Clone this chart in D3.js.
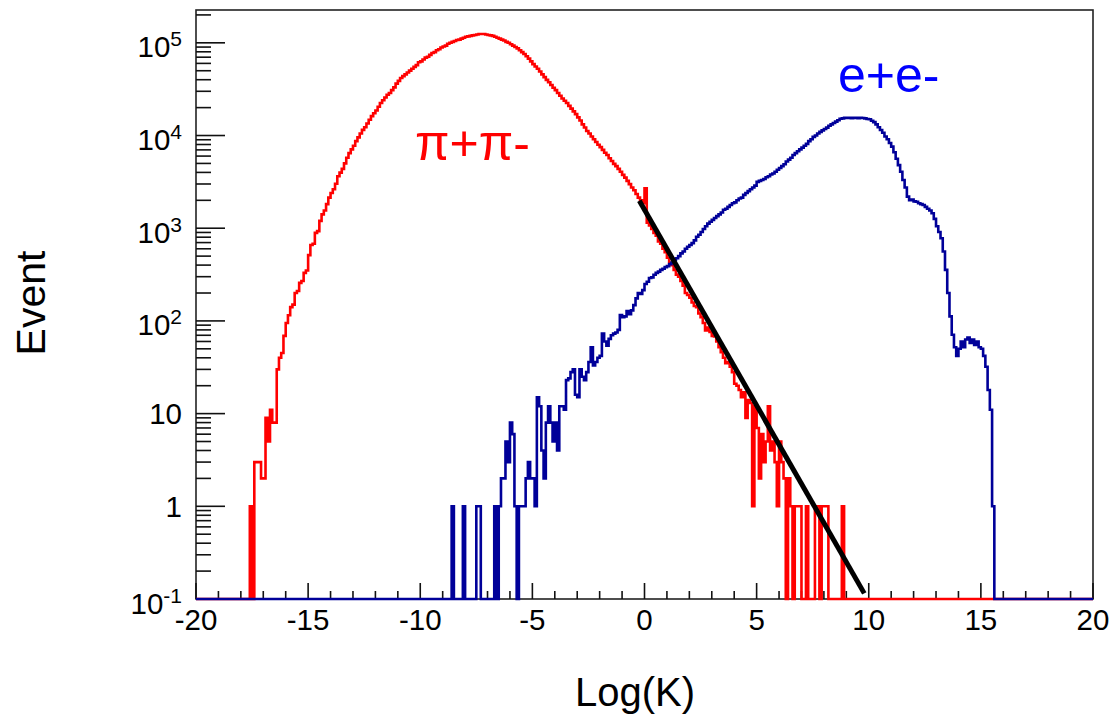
<!DOCTYPE html>
<html>
<head>
<meta charset="utf-8">
<script src="https://cdn.jsdelivr.net/npm/d3@7"></script>
<style>
html, body { margin: 0; padding: 0; background: #fff; }
svg { display: block; font-family: "Liberation Sans", Arial, sans-serif; }
</style>
</head>
<body>
<script>
// histogram binning (Log(K) axis)
var binWidth = 0.1;
var xRange = [-20, 20];

// pi+pi- counts, first bin starts at redStart
var redStart = -17.6;
var redCounts = [
  1, 0, 3, 3, 3, 2, 2, 9, 5, 11, 8, 8, 30, 40, 45, 69, 95, 115, 141, 150,
  200, 210, 257, 270, 330, 350, 513, 660, 680, 890, 930, 1200, 1410, 1550, 1820, 2140, 2400, 2630, 3020, 3630,
  3980, 4370, 5010, 5750, 6460, 7080, 7760, 8710, 9550, 10500, 11500, 12300, 13500, 14800, 16200, 17400, 18600, 20400, 22400, 24000,
  25700, 27500, 28800, 30900, 33100, 36300, 38900, 41700, 43700, 45700, 47900, 50100, 52500, 55000, 57500, 61700, 63100, 66100, 69200, 70800,
  74100, 77600, 79400, 83200, 85100, 89100, 91200, 93300, 97700, 100000, 102300, 104700, 107200, 108400, 110900, 113500, 116100, 117500, 118900, 120200,
  121600, 123000, 124500, 124500, 124400, 123000, 121600, 120200, 118900, 116100, 113500, 110900, 108400, 105900, 102300, 100000, 96600, 93300, 90200, 87100,
  83200, 79400, 75900, 71600, 67600, 63100, 58900, 55600, 52500, 49000, 45700, 42700, 39800, 37600, 35100, 32700, 30900, 28800, 26900, 25100,
  23700, 22400, 20900, 19500, 18200, 17000, 15700, 14500, 13200, 12200, 11200, 10500, 9770, 9120, 8510, 7940, 7500, 7000, 6530, 6170,
  5690, 5310, 4950, 4680, 4370, 4070, 3760, 3510, 3240, 2990, 2750, 2570, 2340, 2140, 2000, 1860, 2690, 1150, 1070, 980,
  890, 830, 720, 680, 600, 550, 480, 420, 400, 355, 316, 300, 270, 240, 200, 190, 178, 158, 145, 141,
  120, 110, 95, 79, 85, 76, 69, 68, 60, 52, 46, 40, 35, 36, 32, 28, 21, 20, 18, 15,
  17, 9, 14, 13, 1, 12, 7, 2, 6, 3, 5, 12, 4, 5, 3, 1, 5, 3, 2, 0,
  2, 1, 0, 1, 1, 1, 0, 0, 1, 0, 0, 0, 1, 1, 0, 1, 1, 1, 0, 0,
  0, 0, 0, 0, 1
];

// e+e- counts, first bin starts at blueStart
var blueStart = -8.6;
var blueCounts = [
  1, 0, 0, 0, 0, 1, 0, 0, 0, 0, 0, 1, 1, 0, 0, 0, 0, 0, 0, 1,
  0, 1, 2, 2, 5, 3, 8, 6, 1, 0, 1, 1, 1, 2, 3, 2, 2, 1, 15, 12,
  4, 2, 8, 12, 8, 5, 8, 4, 12, 12, 11, 23, 24, 28, 30, 16, 15, 30, 25, 23,
  28, 36, 52, 33, 36, 40, 42, 73, 60, 54, 64, 70, 73, 75, 80, 116, 110, 112, 128, 118,
  130, 148, 175, 200, 195, 215, 250, 265, 290, 295, 315, 330, 340, 355, 365, 380, 390, 410, 425, 455,
  475, 500, 535, 560, 600, 630, 660, 690, 740, 810, 850, 910, 980, 1050, 1120, 1175, 1230, 1290, 1350, 1410,
  1480, 1580, 1620, 1700, 1780, 1860, 1900, 2000, 2090, 2140, 2290, 2400, 2510, 2630, 2750, 2880, 3160, 3240, 3310, 3390,
  3550, 3630, 3800, 3890, 4070, 4270, 4470, 4680, 4900, 5250, 5500, 5750, 6170, 6460, 6760, 7080, 7410, 7760, 8130, 8710,
  9120, 9660, 10000, 10500, 10960, 11350, 11750, 12160, 12740, 13180, 13650, 14130, 14620, 15140, 15310, 15490, 15490, 15500, 15400, 15500,
  15500, 15400, 15500, 15450, 15300, 15100, 15000, 14450, 13960, 13180, 12300, 11480, 10700, 9770, 9120, 8320, 7590, 6610, 5620, 4790,
  4070, 3310, 2750, 2190, 2000, 2040, 1950, 1930, 1860, 1820, 1780, 1700, 1620, 1550, 1450, 1260, 1050, 910, 780, 560,
  355, 200, 112, 71, 52, 42, 50, 60, 52, 63, 66, 58, 63, 55, 60, 52, 50, 42, 32, 18,
  11, 1
];

// exponential fit (straight on log scale), end points
var fitX = [-0.23, 9.8];
var fitY = [1980, 0.115];

var xTicks = [-20, -15, -10, -5, 0, 5, 10, 15, 20];
var yDecades = [0.1, 1, 10, 100, 1000, 10000, 100000];
var yLabels = [["10", "-1"], ["1", ""], ["10", ""], ["10", "2"], ["10", "3"], ["10", "4"], ["10", "5"]];
var yMin = 0.1, yMax = 2.26e5;

var W = 1109, H = 715;
var fLeft = 196, fRight = 1093, fTop = 10, fBottom = 599;

var x = d3.scaleLinear().domain(xRange).range([fLeft, fRight]);
var y = d3.scaleLog().domain([yMin, yMax]).range([fBottom, fTop]);

var svg = d3.select("body").append("svg").attr("width", W).attr("height", H);

// frame
svg.append("rect")
  .attr("x", fLeft).attr("y", fTop)
  .attr("width", fRight - fLeft).attr("height", fBottom - fTop)
  .attr("fill", "none").attr("stroke", "#222").attr("stroke-width", 1.6);

// x ticks (major every 5, minor every 1), pointing up
var xMinor = d3.range(xRange[0], xRange[1] + 1, 1);
svg.selectAll("line.xt")
  .data(xMinor)
  .enter().append("line")
  .attr("class", "xt")
  .attr("x1", function (d) { return x(d); })
  .attr("x2", function (d) { return x(d); })
  .attr("y1", fBottom)
  .attr("y2", function (d) { return xTicks.indexOf(d) >= 0 ? fBottom - 16 : fBottom - 8; })
  .attr("stroke", "#111").attr("stroke-width", 1.6);

svg.selectAll("text.xl")
  .data(xTicks)
  .enter().append("text")
  .attr("class", "xl")
  .attr("x", function (d) { return x(d); })
  .attr("y", fBottom + 31)
  .attr("text-anchor", "middle")
  .attr("font-size", 29.5)
  .attr("fill", "#000")
  .text(function (d) { return d; });

// y ticks: decades + 2..9 minor
var yMinor = [];
yDecades.forEach(function (dv) {
  for (var m = 2; m <= 9; m++) { if (dv * m <= yMax) yMinor.push(dv * m); }
});
svg.selectAll("line.ym")
  .data(yMinor)
  .enter().append("line")
  .attr("class", "ym")
  .attr("x1", fLeft).attr("x2", fLeft + 15)
  .attr("y1", function (d) { return y(d); })
  .attr("y2", function (d) { return y(d); })
  .attr("stroke", "#111").attr("stroke-width", 1.6);

svg.selectAll("line.yM")
  .data(yDecades)
  .enter().append("line")
  .attr("class", "yM")
  .attr("x1", fLeft).attr("x2", fLeft + 29)
  .attr("y1", function (d) { return y(d); })
  .attr("y2", function (d) { return y(d); })
  .attr("stroke", "#111").attr("stroke-width", 1.6);

var yl = svg.selectAll("text.yl")
  .data(yDecades)
  .enter().append("text")
  .attr("class", "yl")
  .attr("x", 182)
  .attr("y", function (d, i) { return y(d) + (yLabels[i][1] ? 14.5 : 10.5); })
  .attr("text-anchor", "end")
  .attr("font-size", 29.5)
  .attr("fill", "#000");
yl.append("tspan").text(function (d, i) { return yLabels[i][0]; });
yl.append("tspan")
  .attr("dy", -11)
  .attr("font-size", 21)
  .text(function (d, i) { return yLabels[i][1]; });

// axis titles
svg.append("text")
  .attr("x", 635).attr("y", 706)
  .attr("text-anchor", "middle")
  .attr("font-size", 40)
  .attr("fill", "#000")
  .text("Log(K)");

svg.append("text")
  .attr("transform", "translate(45,303) rotate(-90)")
  .attr("text-anchor", "middle")
  .attr("font-size", 41)
  .attr("fill", "#000")
  .text("Event");

// histograms as ROOT-style step lines
function toBins(start, counts) {
  var n = Math.round((xRange[1] - xRange[0]) / binWidth);
  var off = Math.round((start - xRange[0]) / binWidth);
  var out = [];
  for (var i = 0; i < n; i++) {
    var c = counts[i - off];
    out.push(c > 0 ? c : 0);
  }
  return out;
}

function stepPoints(bins) {
  var pts = [];
  bins.forEach(function (v, i) {
    var yv = v > yMin ? y(v) : y(yMin);
    pts.push([x(xRange[0] + i * binWidth), yv]);
    pts.push([x(xRange[0] + (i + 1) * binWidth), yv]);
  });
  return pts;
}

var line = d3.line();

svg.append("path")
  .attr("d", line(stepPoints(toBins(redStart, redCounts))))
  .attr("fill", "none")
  .attr("stroke", "#ff0000")
  .attr("stroke-width", 2.6)
  .attr("stroke-linejoin", "miter");

svg.append("path")
  .attr("d", line(stepPoints(toBins(blueStart, blueCounts))))
  .attr("fill", "none")
  .attr("stroke", "#000099")
  .attr("stroke-width", 2.6)
  .attr("stroke-linejoin", "miter");

// fit
svg.append("path")
  .attr("d", d3.line()
    .x(function (d) { return x(d); })
    .y(function (d, i) { return y(fitY[i]); })(fitX))
  .attr("fill", "none")
  .attr("stroke", "#000")
  .attr("stroke-width", 5);

// labels
svg.append("text")
  .attr("x", 415).attr("y", 160)
  .attr("font-size", 50)
  .attr("fill", "#ff0000")
  .text("π+π-");

svg.append("text")
  .attr("x", 838).attr("y", 92)
  .attr("font-size", 50)
  .attr("fill", "#0000ff")
  .text("e+e-");
</script>
</body>
</html>
